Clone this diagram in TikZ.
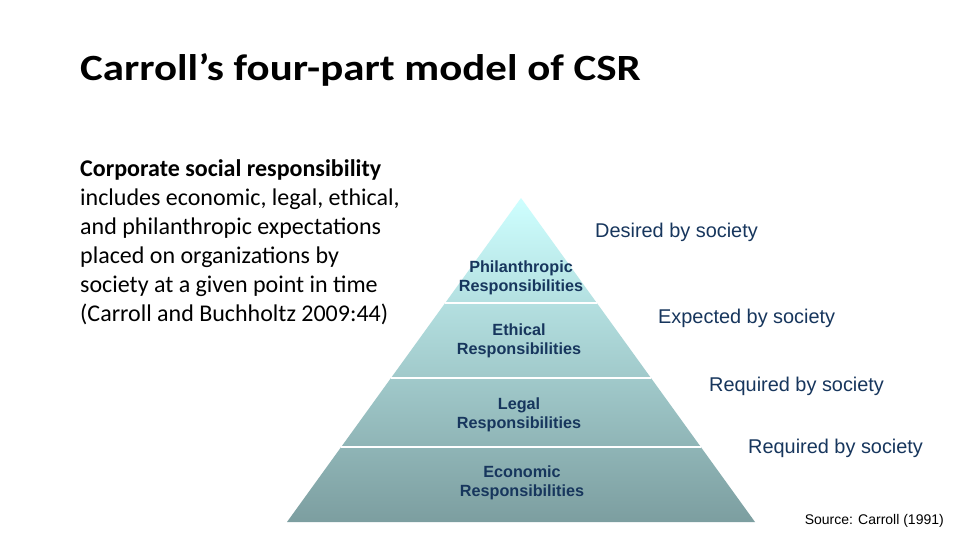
\documentclass[tikz,border=0pt]{standalone}
\usepackage{fontspec}
\setmainfont{Carlito}
\newfontfamily\arialfont{Liberation Sans}
\usetikzlibrary{calc}

\definecolor{pyrtop}{RGB}{206,255,255}
\definecolor{pyrbot}{RGB}{124,158,160}
\definecolor{navytext}{RGB}{23,54,93}

\begin{document}
\begin{tikzpicture}[
  x=1pt, y=-1pt,
  layer/.style ={align=center, inner sep=0pt, text=navytext, font=\arialfont\bfseries\fontsize{16.2}{19.5}\selectfont},
  remark/.style={anchor=west, inner sep=0pt, text=navytext, font=\arialfont\fontsize{19.9}{23}\selectfont},
  sep/.style   ={white, line width=1.8pt}
  ]

  \useasboundingbox[fill=white] (0,0) rectangle (960,540);

  % title and quote
  \node[anchor=base west, inner sep=0pt, font=\bfseries\fontsize{37}{42}\selectfont] (title) at (80,81)
    {\scalebox{1.16}[1]{Carroll’s four-part model of CSR}};
  \node[anchor=north west, inner sep=0pt, align=left, font=\fontsize{24}{29}\selectfont] (quote) at (80,159)
    {\textbf{Corporate social responsibility}\\
     includes economic, legal, ethical,\\
     and philanthropic expectations\\
     placed on organizations by\\
     society at a given point in time\\
     (Carroll and Buchholtz 2009:44)};

  % pyramid
  \coordinate (apex)  at (521,198);
  \coordinate (baseL) at (287,522);
  \coordinate (baseR) at (755,522);
  \shade[top color=pyrtop, bottom color=pyrbot] (apex) -- (baseL) -- (baseR) -- cycle;
  \draw[sep] ($(apex)!0.324!(baseL)$) -- ($(apex)!0.324!(baseR)$);
  \draw[sep] ($(apex)!0.556!(baseL)$) -- ($(apex)!0.556!(baseR)$);
  \draw[sep] ($(apex)!0.769!(baseL)$) -- ($(apex)!0.769!(baseR)$);

  \node[layer] (phil)  at (521,278) {Philanthropic\\Responsibilities};
  \node[layer] (eth)   at (519,341) {Ethical\\Responsibilities};
  \node[layer] (legal) at (519,415) {Legal\\Responsibilities};
  \node[layer] (econ)  at (522,483) {Economic\\Responsibilities};

  % what society asks
  \node[remark] (desired)  at (595,232) {Desired by society};
  \node[remark] (expected) at (658,318) {Expected by society};
  \node[remark] (req1)     at (709,386) {Required by society};
  \node[remark] (req2)     at (748,448) {Required by society};

  \node[anchor=east, inner sep=0pt, font=\arialfont\fontsize{14}{16}\selectfont] (source) at (944,521) {Source: Carroll (1991)};

\end{tikzpicture}
\end{document}
